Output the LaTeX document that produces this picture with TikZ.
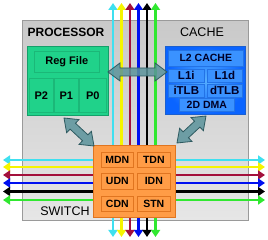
\documentclass[tikz,border=0pt]{standalone}
\usepackage{fontspec}
\setmainfont{Liberation Sans}
\usetikzlibrary{calc,arrows.meta}
\definecolor{tileA}{HTML}{C9C9C9}
\definecolor{tileB}{HTML}{E6E6E6}
\definecolor{tileedge}{HTML}{9A9A9A}
\definecolor{grn}{HTML}{20D28A}
\definecolor{grnedge}{HTML}{14A06A}
\definecolor{grnin}{HTML}{1BB878}
\definecolor{bluein}{HTML}{55AEFF}
\definecolor{blueout}{HTML}{0A64FF}
\definecolor{blueedge}{HTML}{1A5FD0}
\definecolor{bluebox}{HTML}{3A92FF}
\definecolor{blueboxedge}{HTML}{2373E6}
\definecolor{org}{HTML}{FF9C46}
\definecolor{orgedge}{HTML}{E07520}
\definecolor{lcyan}{HTML}{3FE0F0}
\definecolor{lyellow}{HTML}{F5F500}
\definecolor{lmaroon}{HTML}{A3103C}
\definecolor{lblue}{HTML}{0010F0}
\definecolor{lblack}{HTML}{000000}
\definecolor{lgreen}{HTML}{30E830}
\definecolor{arrfill}{HTML}{5B939B}
\definecolor{arredge}{HTML}{2E5A60}
\tikzset{
  box/.style={rectangle, inner sep=0pt, anchor=north west},
  bus/.style={line width=2.5pt, {Triangle[length=7pt,width=9pt]}-{Triangle[length=7pt,width=9pt]}},
  bigarrow/.style={draw=arredge, line width=0.8pt, fill=arrfill, fill opacity=0.85, line join=miter},
  lbl/.style={font=\fontsize{10.5}{12}\selectfont\bfseries},
  clbl/.style={font=\fontsize{11.5}{13}\selectfont\bfseries, text=black!85!blue},
  plbl/.style={font=\fontsize{11}{13}\selectfont\bfseries},
  title/.style={font=\fontsize{12.5}{14}\selectfont},
  gsub/.style={box, draw=grnin, fill=grn, line width=0.6pt},
  bsub/.style={box, draw=blueboxedge, fill=bluebox, line width=0.6pt},
  osub/.style={box, draw=orgedge, fill=org, line width=0.6pt},
}
\newcommand{\dblarr}[2]{%
 \draw[bigarrow] (#1) -- ($(#1)!12pt!(#2)!9pt!90:(#2)$) -- ($(#1)!12pt!(#2)!4pt!90:(#2)$)
  -- ($(#2)!12pt!(#1)!4pt!-90:(#1)$) -- ($(#2)!12pt!(#1)!9pt!-90:(#1)$) -- (#2)
  -- ($(#2)!12pt!(#1)!9pt!90:(#1)$) -- ($(#2)!12pt!(#1)!4pt!90:(#1)$)
  -- ($(#1)!12pt!(#2)!4pt!-90:(#2)$) -- ($(#1)!12pt!(#2)!9pt!-90:(#2)$) -- cycle;}
\begin{document}
\begin{tikzpicture}[x=1pt,y=-1pt]
\useasboundingbox[fill=white] (0,0) rectangle (268,240);
% tile
\node[box, draw=tileedge, line width=0.8pt, top color=tileA, bottom color=tileB, minimum width=226pt, minimum height=200pt] (tile) at (22,20) {};
% buses
\foreach \x/\c [count=\i] in {113/lcyan,121.5/lyellow,130/lmaroon,138.5/lblue,147/lblack,155.5/lgreen}{
  \coordinate (vt\i) at (\x,3);
  \coordinate (vb\i) at (\x,237);
  \draw[bus, \c] (vb\i) -- (vt\i);
}
\foreach \y/\c [count=\i] in {160/lcyan,167/lyellow,175/lmaroon,183/lblue,191.5/lblack,200/lgreen}{
  \coordinate (hl\i) at (3,\y);
  \coordinate (hr\i) at (265,\y);
  \draw[bus, \c] (hl\i) -- (hr\i);
}
% titles
\node[font=\fontsize{12}{14}\selectfont\bfseries] (ptitle) at (66,32) {PROCESSOR};
\node[title] (ctitle) at (202,32) {CACHE};
\node[title] (stitle) at (65,211) {SWITCH};
% processor
\node[box, draw=grnedge, fill=grn, line width=0.8pt, minimum width=81pt, minimum height=69pt] (proc) at (27,46) {};
\node[gsub, minimum width=65pt, minimum height=21pt] (reg) at (34,51) {};
\node[plbl] (regt) at (reg.center) {Reg File};
\node[gsub, minimum width=24pt, minimum height=34pt] (p2) at (29,78) {};
\node[gsub, minimum width=24pt, minimum height=34pt] (p1) at (54,78) {};
\node[gsub, minimum width=27pt, minimum height=34pt] (p0) at (79,78) {};
\node[plbl] (p2t) at (p2.center) {P2};
\node[plbl] (p1t) at (p1.center) {P1};
\node[plbl] (p0t) at (p0.center) {P0};
% cache
\node[box, draw=blueedge, inner color=bluein, outer color=blueout, line width=0.8pt, minimum width=80pt, minimum height=68pt] (cache) at (165,46) {};
\node[bsub, minimum width=75pt, minimum height=16pt] (l2) at (168,50) {};
\node[font=\fontsize{10.5}{12}\selectfont\bfseries, text=black!85!blue] (l2t) at (l2.center) {L2 CACHE};
\node[bsub, minimum width=36pt, minimum height=13pt] (l1i) at (168,69) {};
\node[bsub, minimum width=35pt, minimum height=13pt] (l1d) at (207,69) {};
\node[bsub, minimum width=36pt, minimum height=13pt] (itlb) at (168,84) {};
\node[bsub, minimum width=35pt, minimum height=13pt] (dtlb) at (207,84) {};
\node[bsub, minimum width=55pt, minimum height=13pt] (dma) at (179,98) {};
\node[clbl] (l1it) at (l1i.center) {L1i};
\node[clbl] (l1dt) at (l1d.center) {L1d};
\node[clbl] (itlbt) at (itlb.center) {iTLB};
\node[clbl] (dtlbt) at (dtlb.center) {dTLB};
\node[clbl, font=\fontsize{10.5}{12}\selectfont\bfseries] (dmat) at (dma.center) {2D DMA};
% switch
\node[box, draw=orgedge, fill=org, line width=0.8pt, minimum width=82pt, minimum height=72pt] (sw) at (93,145) {};
\node[osub, minimum width=32pt, minimum height=15pt] (mdn) at (101,152) {};
\node[osub, minimum width=33pt, minimum height=15pt] (tdn) at (137,152) {};
\node[osub, minimum width=32pt, minimum height=16pt] (udn) at (101,173) {};
\node[osub, minimum width=33pt, minimum height=16pt] (idn) at (137,173) {};
\node[osub, minimum width=32pt, minimum height=15pt] (cdn) at (101,196) {};
\node[osub, minimum width=33pt, minimum height=15pt] (stn) at (137,196) {};
\node[lbl] (mdnt) at (mdn.center) {MDN};
\node[lbl] (tdnt) at (tdn.center) {TDN};
\node[lbl] (udnt) at (udn.center) {UDN};
\node[lbl] (idnt) at (idn.center) {IDN};
\node[lbl] (cdnt) at (cdn.center) {CDN};
\node[lbl] (stnt) at (stn.center) {STN};
% big arrows
\coordinate (ha1) at (108,72);
\coordinate (ha2) at (167,72);
\coordinate (la1) at (64,118);
\coordinate (la2) at (94,146);
\coordinate (ra1) at (206,116);
\coordinate (ra2) at (177,143);
\dblarr{ha1}{ha2}
\dblarr{la1}{la2}
\dblarr{ra1}{ra2}
\end{tikzpicture}
\end{document}
